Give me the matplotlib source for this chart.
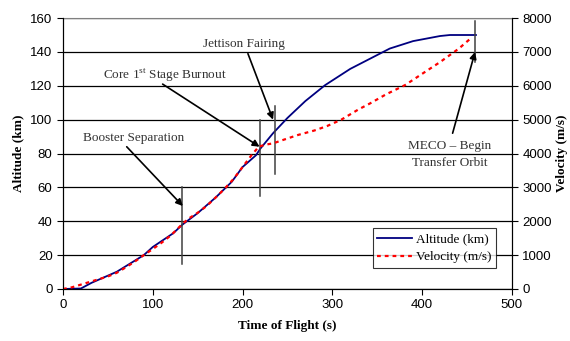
import matplotlib.pyplot as plt

# Altitude profile (km) vs time of flight (s)
t_alt = [0, 20, 32, 60, 90, 100, 123, 133, 150, 170, 188, 200, 215, 220, 234,
         250, 260, 270, 292, 320, 342, 364, 390, 420, 431, 460]
altitude = [0, 0.3, 3.7, 10.2, 20, 24.8, 33, 38, 44.8, 54, 63.3, 72, 79, 83, 92,
            101, 106, 111, 120.4, 130, 136, 142, 146.4, 149.4, 150, 150]

# Velocity profile (m/s)
t_vel = [0, 10, 20, 30, 40, 50, 60, 70, 80, 90, 100, 110, 120, 133, 140, 150,
         160, 170, 180, 190, 200, 210, 218, 225, 234, 245, 262, 280, 294, 310,
         329, 342, 360, 381, 401, 420, 441, 455]
velocity = [0, 50, 130, 210, 290, 370, 480, 640, 810, 1000, 1180, 1370, 1580,
            1920, 2080, 2250, 2450, 2700, 2960, 3250, 3600, 3950, 4200, 4260,
            4300, 4400, 4550, 4680, 4810, 5000, 5300, 5480, 5750, 6020, 6370,
            6700, 7100, 7420]

# Event markers: (time, y bottom, y top) in altitude units
events = [(133, 15, 60), (220, 55, 100), (236, 68, 108), (459, 134, 158)]

# Annotations: text, text centre, arrow start, arrow tip (altitude units)
notes = [
    ("Booster Separation", (79, 89), (71, 84), (133.5, 49)),
    ("Core 1$^{\\rm st}$ Stage Burnout", (113, 126.5), (111, 121), (219, 84)),
    ("Jettison Fairing", (202, 144.5), (206, 139), (234, 100)),
    ("MECO \u2013 Begin\nTransfer Orbit", (431, 79.5), (434, 92), (459, 140)),
]

serif = 'Liberation Serif'
sans = 'Liberation Sans'
plt.rcParams['mathtext.fontset'] = 'custom'
plt.rcParams['mathtext.rm'] = serif

fig = plt.figure(figsize=(5.7, 3.41), dpi=100)
ax = fig.add_axes([0.1105, 0.1525, 0.7875, 0.7945])
ax2 = ax.twinx()

l1, = ax.plot(t_alt, altitude, color='#000080', lw=1.3, label='Altitude (km)')
l2, = ax2.plot(t_vel, velocity, color='#ff0000', lw=1.6, ls=(0, (1.7, 1.8)),
               label='Velocity (m/s)')

ax.set_xlim(0, 500)
ax.set_ylim(0, 160)
ax2.set_ylim(0, 8000)
ax.set_xticks(range(0, 501, 100))
ax.set_yticks(range(0, 161, 20))
ax2.set_yticks(range(0, 8001, 1000))

ax.grid(axis='y', color='black', lw=0.9)
ax.set_axisbelow(True)

for a in (ax, ax2):
    a.tick_params(direction='out', length=4, width=0.8, labelsize=9.5)
    for lab in a.get_xticklabels() + a.get_yticklabels():
        lab.set_family(sans)
ax.spines['top'].set_color('#808080')
ax2.spines['top'].set_visible(False)

ax.set_xlabel('Time of Flight (s)', family=serif, fontweight='bold', fontsize=9.5, labelpad=6)
ax.set_ylabel('Altitude (km)', family=serif, fontweight='bold', fontsize=9.5, labelpad=4)
ax2.set_ylabel('Velocity (m/s)', family=serif, fontweight='bold', fontsize=9.5, labelpad=3)

for x, y0, y1 in events:
    ax.plot([x, x], [y0, y1], color='#404040', lw=1.1)

for txt, tpos, start, tip in notes:
    ax.text(tpos[0], tpos[1], txt, family=serif, fontsize=9.5, color='#333333',
            ha='center', va='center', linespacing=1.6)
    ax.annotate('', xy=tip, xytext=start,
                arrowprops=dict(arrowstyle='-|>', color='black', lw=1.2,
                                mutation_scale=10, shrinkA=0, shrinkB=0))

leg = ax2.legend(handles=[l1, l2], loc='lower right', bbox_to_anchor=(0.964, 0.0775),
                 prop={'family': serif, 'size': 9.5}, frameon=True, fancybox=False,
                 edgecolor='black', handlelength=2.6, handletextpad=0.3,
                 borderpad=0.35, labelspacing=0.45, borderaxespad=0)
leg.get_frame().set_linewidth(0.8)

fig.savefig('out.png', dpi=100)
